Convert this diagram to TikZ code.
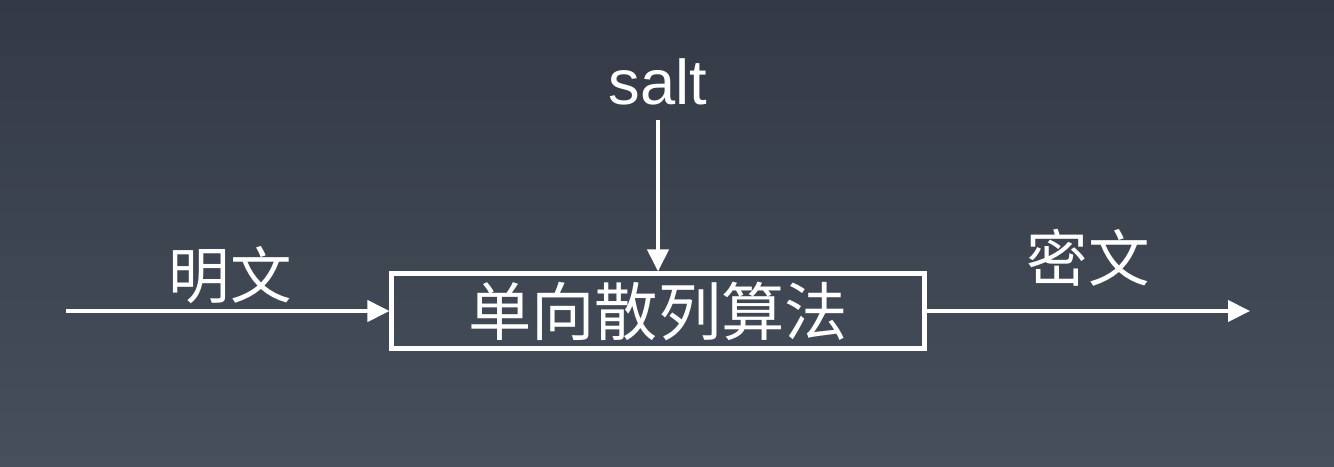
\documentclass[tikz,border=0pt]{standalone}
\usepackage{fontspec}
\setsansfont{Liberation Sans}
\newfontfamily\cjk{Noto Sans CJK SC}
\usetikzlibrary{arrows.meta, positioning}
\definecolor{fondoArriba}{HTML}{333A45}
\definecolor{fondoAbajo}{HTML}{474F5C}

\begin{document}
\begin{tikzpicture}[>=Triangle,
        algo/.style={draw=white, line width=2.3pt, minimum width=10.66cm, minimum height=1.5cm,
            inner sep=0pt, text=white, font=\cjk\fontsize{36}{40}\selectfont},
        lbl/.style={text=white, inner sep=0pt, font=\cjk\fontsize{35}{40}\selectfont},
        flow/.style={-{Triangle[length=0.44cm, width=0.42cm]}, white, line width=2.3pt}]
        \shade[top color=fondoArriba, bottom color=fondoAbajo] (0,0) rectangle (26.68,-9.32);
        \useasboundingbox (0,0) rectangle (26.68,-9.32);
        \node[algo] (h) at (13.16,-6.22) {单向散列算法};
        \node[text=white, inner sep=0pt, anchor=base, font=\sffamily\fontsize{36}{40}\selectfont] (s) at (13.16,-2.08) {salt};
        \node[lbl] (m) at (4.6,-5.5) {明文};
        \node[lbl] (c) at (21.76,-5.16) {密文};
        \coordinate (in) at (1.32,-6.22);
        \coordinate (out) at (25.0,-6.22);
        \coordinate (st) at (13.16,-2.4);
        \draw[flow] (in) -- (h.west);
        \draw[flow] (st) -- (h.north);
        \draw[flow] (h.east) -- (out);
    \end{tikzpicture}
\end{document}
